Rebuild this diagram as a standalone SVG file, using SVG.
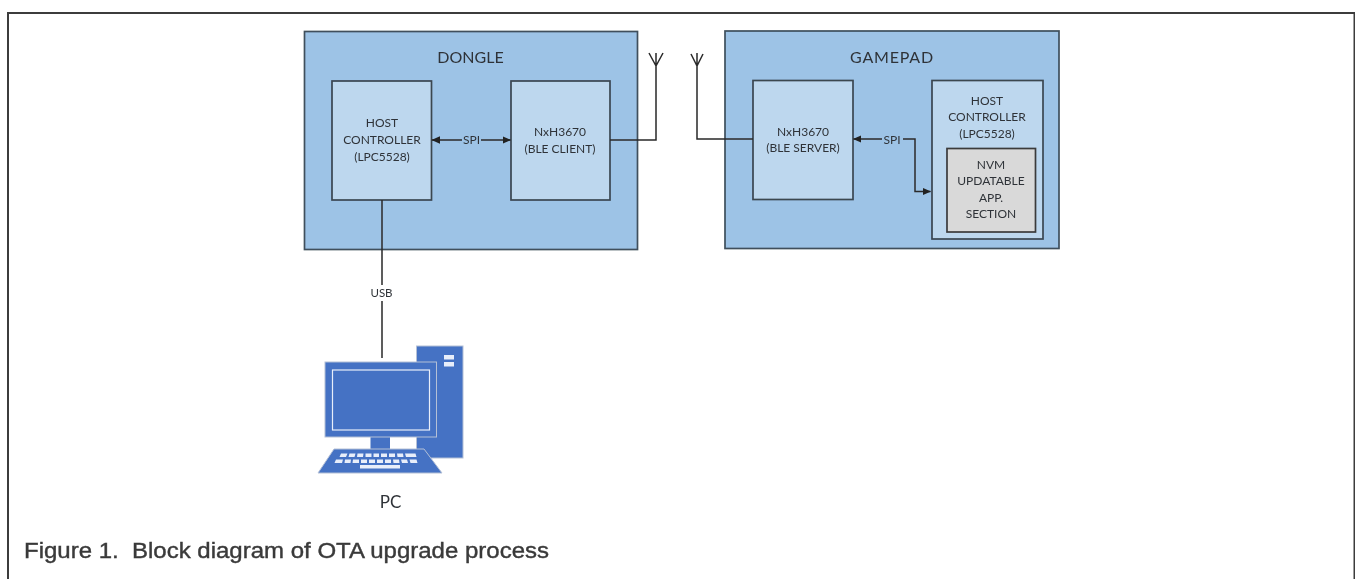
<svg xmlns="http://www.w3.org/2000/svg" width="1355" height="579" viewBox="0 0 1355 579">
<style>
text{font-family:Lato,"Open Sans","Liberation Sans",sans-serif;fill:#2f3338;text-anchor:middle}
.t{font-size:12px}
.h{font-size:16px}
.outer{fill:#9dc3e6;stroke:#3f4f5c;stroke-width:1.7}
.inner{fill:#bdd7ee;stroke:#3a4650;stroke-width:1.7}
.c{fill:none;stroke:#2a2a2a;stroke-width:1.5}
.pc{fill:#4472c4;stroke:#b4c0d6;stroke-width:1}
.w{fill:#e8eefa}
.soft{filter:url(#s)}
</style>
<defs>
<filter id="s" x="0" y="0" width="1355" height="579" filterUnits="userSpaceOnUse"><feGaussianBlur stdDeviation="0.35"/></filter>
<marker id="a" viewBox="0 0 8 8" refX="7.500" refY="4" markerWidth="8.500" markerHeight="8.500" markerUnits="userSpaceOnUse" orient="auto-start-reverse"><path d="M0 0.500L8 4L0 7.500Z" fill="#222"/></marker>
</defs>
<rect width="1355" height="579" fill="#fff"/>
<g id="frame" fill="none" stroke="#3c3c3c" stroke-width="2">
<path d="M8 579V13H1354.500V579"/>
</g>
<g class="soft">
<g id="dongle">
<rect class="outer" x="304.500" y="31.500" width="333" height="218"/>
<text class="h" x="470.500" y="63">DONGLE</text>
</g>
<g id="dongle-host">
<rect class="inner" x="332" y="81" width="99.500" height="119"/>
<text class="t" x="382" y="127">HOST</text>
<text class="t" x="382" y="143.500">CONTROLLER</text>
<text class="t" x="382" y="161">(LPC5528)</text>
</g>
<g id="dongle-nxh">
<rect class="inner" x="511" y="81" width="99" height="119"/>
<text class="t" x="560" y="135.500">NxH3670</text>
<text class="t" x="560" y="152.500">(BLE CLIENT)</text>
</g>
<g id="gamepad">
<rect class="outer" x="725" y="31" width="334" height="217.500"/>
<text class="h" x="892" y="63" style="letter-spacing:.8px">GAMEPAD</text>
</g>
<g id="gamepad-nxh">
<rect class="inner" x="753" y="80.500" width="100" height="119"/>
<text class="t" x="803" y="136">NxH3670</text>
<text class="t" x="803" y="152">(BLE SERVER)</text>
</g>
<g id="gamepad-host">
<rect class="inner" x="932" y="80.500" width="111" height="158.500"/>
<text class="t" x="987" y="105">HOST</text>
<text class="t" x="987" y="121">CONTROLLER</text>
<text class="t" x="987" y="138">(LPC5528)</text>
</g>
<g id="nvm">
<rect x="947" y="148.500" width="88.500" height="83.500" fill="#d9d9d9" stroke="#3a3a3a" stroke-width="1.700"/>
<text class="t" x="991" y="169">NVM</text>
<text class="t" x="991" y="185">UPDATABLE</text>
<text class="t" x="991" y="202">APP.</text>
<text class="t" x="991" y="218">SECTION</text>
</g>
<g id="connectors">
<path class="c" d="M462 140H432" marker-end="url(#a)"/>
<path class="c" d="M481 140H510.500" marker-end="url(#a)"/>
<path class="c" d="M610 140H656V53M649 53L656 66M663 53L656 66"/>
<path class="c" d="M753 139H697V53M691 54L697 66M703 54L697 66"/>
<path class="c" d="M882 139H853.500" marker-end="url(#a)"/>
<path class="c" d="M903 139H915V191.500H930.500" marker-end="url(#a)"/>
<path class="c" d="M382 200V285M382 301V358"/>
</g>
<g id="connector-labels">
<text class="t" x="471.500" y="144">SPI</text>
<text class="t" x="892" y="143.500">SPI</text>
<text class="t" x="381.500" y="297" style="font-size:11.500px">USB</text>
</g>
<g id="pc">
<rect class="pc" x="416.500" y="346" width="46.500" height="112"/>
<rect class="w" x="444" y="355" width="10" height="4.500"/>
<rect class="w" x="444" y="362" width="10" height="4.500"/>
<rect x="370.500" y="437" width="19.500" height="13" fill="#4472c4"/>
<path class="pc" d="M318 473L334 449H424L442 473Z"/>
<rect class="pc" x="325" y="362" width="111.500" height="75"/>
<rect x="332.500" y="370" width="97" height="60" fill="#4472c4" stroke="#e8eefa" stroke-width="1.200"/>
<g class="w">
<path d="M341 453.500h6.500l-1.500 3.500h-6.500zM349.500 453.500h6l-1 3.500h-6zM357.500 453.500h6l-.5 3.500h-6zM365.500 453.500h6v3.500h-6zM373.500 453.500h5.500v3.500h-5.500zM381 453.500h6v3.500h-6zM389 453.500h6v3.500h-6zM397 453.500h6l.5 3.500h-6zM405 453.500h6l1 3.500h-6zM410.500 453.500h5l1 3.500h-5z"/>
<path d="M336 459.500h7l-1 3.500h-7.500zM345 459.500h6l-.5 3.500h-6zM353 459.500h6v3.500h-6.500zM361 459.500h6v3.500h-6zM369 459.500h6v3.500h-6zM377 459.500h6v3.500h-6zM385 459.500h6v3.500h-6zM393 459.500h6l.5 3.500h-6zM401 459.500h6l1 3.500h-6zM409.500 459.500h7l1 3.500h-7z"/>
<rect x="360" y="465" width="40" height="3.500"/>
</g>
<text x="390.500" y="508" style="font-size:17px">PC</text>
</g>
<g id="caption">
<text x="24" y="558" style="font-family:'Liberation Sans',Arial,sans-serif;font-size:22px;text-anchor:start;fill:#3a3a3a;stroke:#3a3a3a;stroke-width:.4" xml:space="preserve" textLength="525" lengthAdjust="spacingAndGlyphs">Figure 1.  Block diagram of OTA upgrade process</text>
</g>
</g>
</svg>
